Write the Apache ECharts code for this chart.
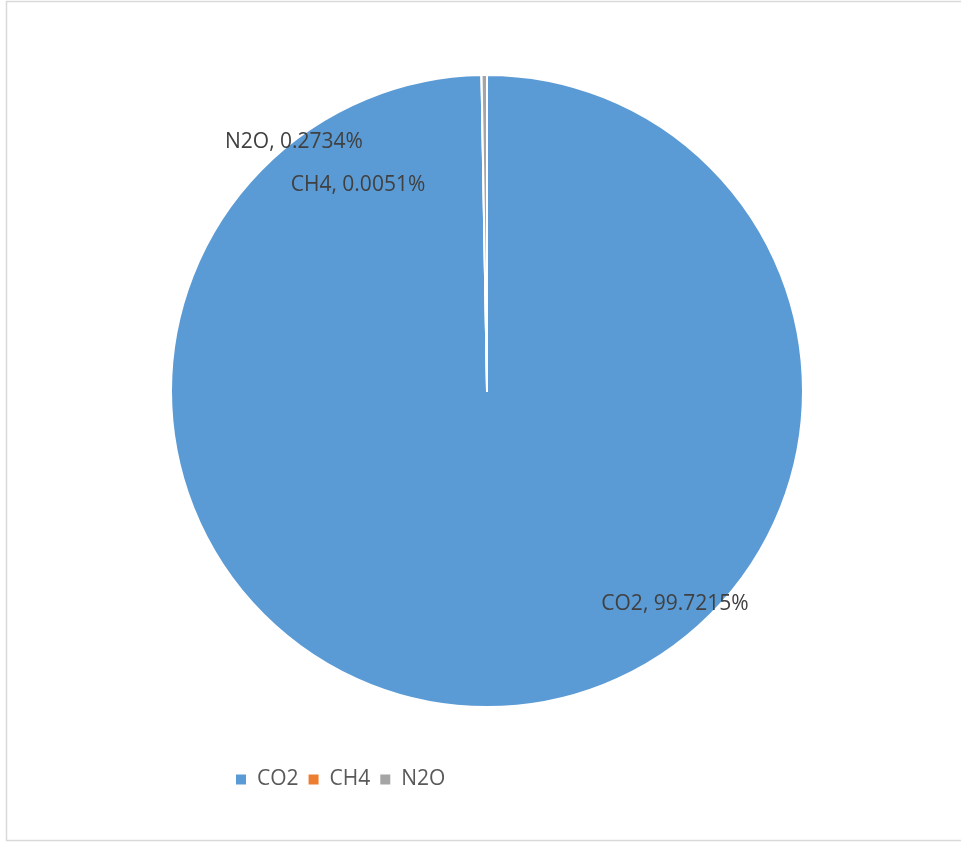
<!DOCTYPE html>
<html>
<head>
<meta charset="utf-8">
<script src="https://cdn.jsdelivr.net/npm/echarts@6/dist/echarts.min.js"></script>
<style>
  html, body { margin: 0; padding: 0; background: #fff; }
  #main { width: 961px; height: 843px; }
</style>
</head>
<body>
<div id="main"></div>
<script>
var gases = ['CO2', 'CH4', 'N2O'];
var shares = [99.7215, 0.0051, 0.2734];
var colors = ['#5B9BD5', '#ED7D31', '#A5A5A5'];
// where Excel put each label, as offset from the pie centre (px)
var labelSpots = [[188, 213], [-129, -206], [-193, -249]];

var chartDom = document.getElementById('main');
var myChart = echarts.init(chartDom);
var option;

var cx = 487, cy = 391;

option = {
    animation: false,
    color: colors,
    graphic: [{
        type: 'rect',
        shape: { x: 6.5, y: 1.5, width: 960, height: 839 },
        style: { fill: 'none', stroke: '#d9d9d9', lineWidth: 1.5 },
        silent: true
    }],
    legend: {
        left: 231,
        top: 764,
        icon: 'rect',
        itemWidth: 10,
        itemHeight: 10,
        itemGap: 10,
        itemStyle: { borderWidth: 0, borderColor: 'transparent' },
        textStyle: {
            color: '#595959',
            fontSize: 21,
            fontFamily: 'Open Sans',
            padding: [0, 0, 0, 6]
        },
        data: gases
    },
    series: [{
        name: 'Emissions',
        type: 'pie',
        center: [cx, cy],
        radius: [0, 316],
        startAngle: 90,
        clockwise: true,
        avoidLabelOverlap: false,
        itemStyle: {
            borderColor: '#fff',
            borderWidth: 2
        },
        label: {
            show: true,
            position: 'inside',
            color: '#404040',
            fontSize: 21,
            fontFamily: 'Open Sans',
            formatter: function (p) {
                return p.name + ', ' + p.value.toFixed(4) + '%';
            }
        },
        labelLine: { show: false },
        labelLayout: function (p) {
            var s = labelSpots[p.dataIndex];
            return { x: cx + s[0], y: cy + s[1], align: 'center', verticalAlign: 'middle' };
        },
        data: gases.map(function (g, i) {
            return { name: g, value: shares[i] };
        })
    }]
};

option && myChart.setOption(option);
</script>
</body>
</html>
